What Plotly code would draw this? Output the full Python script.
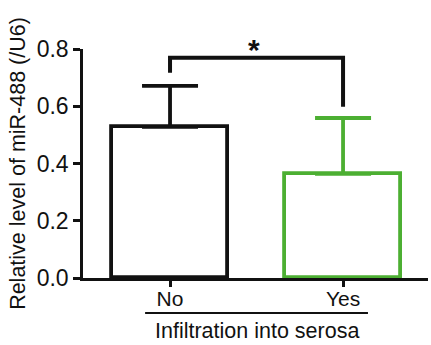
import plotly.graph_objects as go

categories = ["No", "Yes"]
means = [0.528, 0.364]
sems = [0.143, 0.195]
bar_colors = ["#111111", "#4caf32"]
bracket_y = [0.717, 0.769, 0.769, 0.598]
y_ticks = [0.0, 0.2, 0.4, 0.6, 0.8]
y_tick_labels = ["0.0", "0.2", "0.4", "0.6", "0.8"]

FONT = "Liberation Sans, Arial, sans-serif"
pos = list(range(len(categories)))

fig = go.Figure()
for i, (c, m, s, col) in enumerate(zip(categories, means, sems, bar_colors)):
    fig.add_trace(go.Bar(
        x=[pos[i]], y=[m], width=0.67,
        marker=dict(color="white", line=dict(color=col, width=3.8)),
        error_y=dict(type="data", array=[s], arrayminus=[0], symmetric=False,
                     color=col, thickness=3.8, width=28),
        showlegend=False,
    ))

fig.add_trace(go.Scatter(
    x=[pos[0], pos[0], pos[1], pos[1]], y=bracket_y, mode="lines",
    line=dict(color="#111111", width=4), showlegend=False, hoverinfo="skip",
))

fig.add_annotation(x=0.496, y=1.0, xref="paper", yref="paper", text="<b>*</b>", showarrow=False,
                   font=dict(family=FONT, size=30, color="#111111"), yanchor="middle")

fig.add_shape(type="line", xref="paper", yref="paper", x0=0.180, x1=0.826,
              y0=-0.153, y1=-0.153, line=dict(color="#111111", width=2))
fig.add_annotation(x=0.505, y=-0.172, xref="paper", yref="paper",
                   text="Infiltration into serosa", showarrow=False, yanchor="top",
                   font=dict(family=FONT, size=21.5, color="#111111"))

fig.update_layout(
    width=431, height=345,
    margin=dict(l=83, r=3, t=49, b=67),
    plot_bgcolor="white", paper_bgcolor="white",
    bargap=0,
    font=dict(family=FONT, color="#111111"),
)
fig.update_xaxes(
    range=[-0.503, 1.491], tickvals=pos, ticktext=categories,
    showline=True, linecolor="#111111", linewidth=2.5,
    ticks="outside", ticklen=6, tickwidth=2.5, tickcolor="#111111",
    ticklabelstandoff=-6,
    showgrid=False, zeroline=False, tickfont=dict(family=FONT, size=21, color="#111111"),
)
fig.update_yaxes(
    range=[0, 0.8], tickvals=y_ticks, ticktext=y_tick_labels,
    showline=True, linecolor="#111111", linewidth=2.5,
    ticks="outside", ticklen=7, tickwidth=2.5, tickcolor="#111111",
    showgrid=False, zeroline=False, tickfont=dict(family=FONT, size=23, color="#111111"),
    title=dict(text="Relative level of miR-488 (/U6)", font=dict(family=FONT, size=21.5, color="#111111"), standoff=6),
)

fig.write_html("out.html")
